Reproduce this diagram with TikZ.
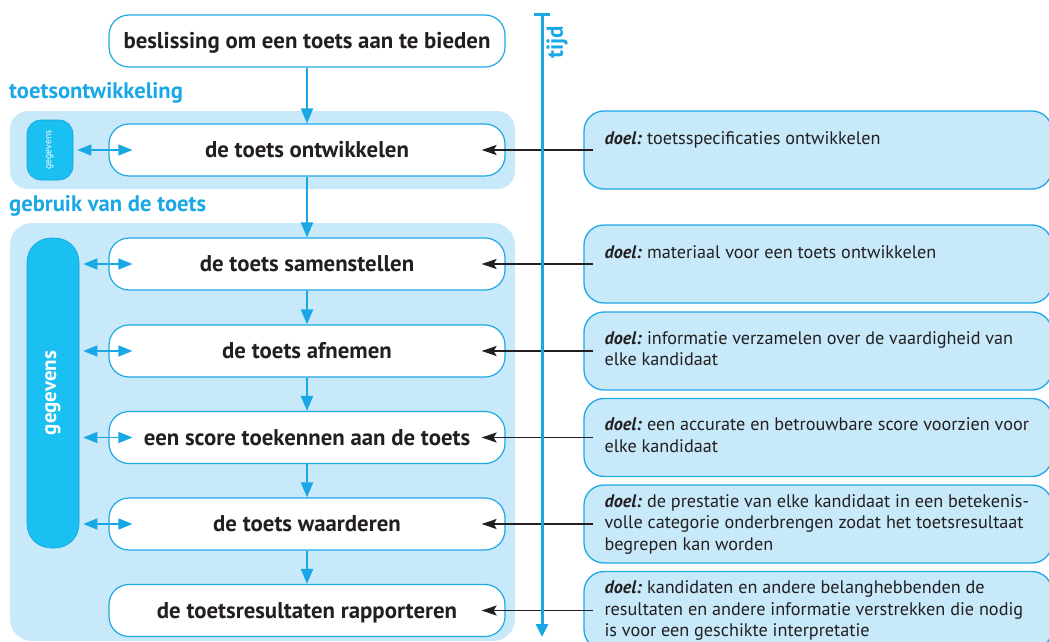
\documentclass[tikz,border=0pt]{standalone}
\usepackage{fontspec}
\setmainfont{PT Sans}
\usetikzlibrary{arrows.meta,calc}
\definecolor{panel}{HTML}{C7E9F9}
\definecolor{boxline}{HTML}{1FA8E6}
\definecolor{accent}{HTML}{1AA7E5}
\definecolor{cyanfill}{HTML}{1BC0F2}
\definecolor{cyanline}{HTML}{17A3DA}
\definecolor{ink}{HTML}{231F20}
\newcommand{\doel}{\textbf{\textit{doel:}}\ }
\begin{document}
\begin{tikzpicture}[x=1pt,y=-1pt,
  stepbox/.style={draw=boxline, line width=1.2pt, fill=white, rounded corners=20pt,
    minimum width=396pt, minimum height=52pt, inner sep=0pt, text=ink,
    text height=18pt, text depth=3pt,
    font=\fontsize{22.8}{26}\selectfont\bfseries},
  gegbox/.style={draw=cyanline, line width=0.6pt, fill=cyanfill, inner sep=0pt},
  gegtxt/.style={rotate=90, text=white, inner sep=0pt},
  lbl/.style={text=accent, inner sep=0pt, font=\fontsize{22.6}{26}\selectfont\bfseries},
  doelbox/.style={draw=boxline, line width=1.3pt, fill=panel, rounded corners=20pt,
    minimum width=468pt, minimum height=78pt, inner sep=0pt},
  doeltxt/.style={anchor=north west, align=left, inner sep=0pt, text=ink,
    font=\fontsize{18.2}{21.5}\selectfont},
  flow/.style={draw=accent, line width=2pt, -{Triangle[length=15pt,width=12pt]}},
  both/.style={draw=accent, line width=1.3pt,
    {Triangle[length=14pt,width=11pt]}-{Triangle[length=14pt,width=11pt]}},
  pointer/.style={draw=ink, line width=1.5pt, -{Stealth[length=15pt,width=10pt,inset=3pt]}},
  timeline/.style={draw=accent, line width=3pt}
]
\useasboundingbox (0,0) rectangle (1049,642);
\clip (0,0) rectangle (1049,642);

% background panels of the two phases
\fill[panel, rounded corners=18pt] (10,111) rectangle (515,189);
\fill[panel, rounded corners=22pt] (10,223) rectangle (515,641);

% phase labels
\node[lbl, anchor=west] (ph1) at (9,93) {toetsontwikkeling};
\node[lbl, anchor=west] (ph2) at (9,206) {gebruik van de toets};

% process steps
\node[stepbox] (s0) at (307,41)    {beslissing om een toets aan te bieden};
\node[stepbox] (s1) at (307,150)   {de toets ontwikkelen};
\node[stepbox] (s2) at (307,264)   {de toets samenstellen};
\node[stepbox] (s3) at (307,351)   {de toets afnemen};
\node[stepbox] (s4) at (307,437.5) {een score toekennen aan de toets};
\node[stepbox] (s5) at (307,524)   {de toets waarderen};
\node[stepbox] (s6) at (307,610.5) {de toetsresultaten rapporteren};

% data stores
\node[gegbox, rounded corners=14pt, minimum width=46pt, minimum height=60pt] (g1) at (50,150) {};
\node[gegtxt, font=\fontsize{9.8}{11}\selectfont] (g1t) at (g1) {gegevens};
\node[gegbox, rounded corners=24pt, minimum width=52pt, minimum height=310pt] (g2) at (53,393) {};
\node[gegtxt, font=\fontsize{21}{24}\selectfont\bfseries] (g2t) at (g2) {gegevens};

% flow between steps
\foreach \a/\b in {s0/s1,s1/s2,s2/s3,s3/s4,s4/s5,s5/s6}
  \draw[flow] (\a.south) -- (\b.north);

% data exchange
\draw[both, shorten <=4pt] (g1.east |- s1.west) -- ([xshift=24pt]s1.west);
\foreach \s in {s2,s3,s4,s5}
  \draw[both, shorten <=4pt] (g2.east |- \s.west) -- ([xshift=24pt]\s.west);

% goals of each step
\node[doelbox] (d1) at (818,150)   {};
\node[doelbox] (d2) at (818,264)   {};
\node[doelbox] (d3) at (818,351)   {};
\node[doelbox] (d4) at (818,437.5) {};
\node[doelbox] (d5) at (818,524)   {};
\node[doelbox] (d6) at (818,610.5) {};

\node[doeltxt] (d1t) at ($(d1.north west)+(21,21)$) {\doel toetsspecificaties ontwikkelen};
\node[doeltxt] (d2t) at ($(d2.north west)+(21,21)$) {\doel materiaal voor een toets ontwikkelen};
\node[doeltxt] (d3t) at ($(d3.north west)+(21,20)$) {\doel informatie verzamelen over de vaardigheid van\\elke kandidaat};
\node[doeltxt] (d4t) at ($(d4.north west)+(21,20)$) {\doel een accurate en betrouwbare score voorzien voor\\elke kandidaat};
\node[doeltxt] (d5t) at ($(d5.north west)+(21,10)$) {\doel de prestatie van elke kandidaat in een betekenis-\\volle categorie onderbrengen zodat het toetsresultaat\\begrepen kan worden};
\node[doeltxt] (d6t) at ($(d6.north west)+(21,10)$) {\doel kandidaten en andere belanghebbenden de\\resultaten en andere informatie verstrekken die nodig\\is voor een geschikte interpretatie};

\foreach \i in {1,...,6}
  \draw[pointer] ([xshift=10pt]d\i.west) -- ([xshift=-24pt]s\i.east);

% time axis
\coordinate (t0) at (542,15);
\coordinate (t1) at (542,637);
\draw[timeline, -{Triangle[length=13pt,width=12pt]}] (t0) -- (t1);
\draw[timeline] ([xshift=-8pt]t0) -- ([xshift=8pt]t0);
\node[lbl, rotate=90, font=\fontsize{23}{26}\selectfont\bfseries] (tt) at (557,42) {tijd};
\end{tikzpicture}
\end{document}
